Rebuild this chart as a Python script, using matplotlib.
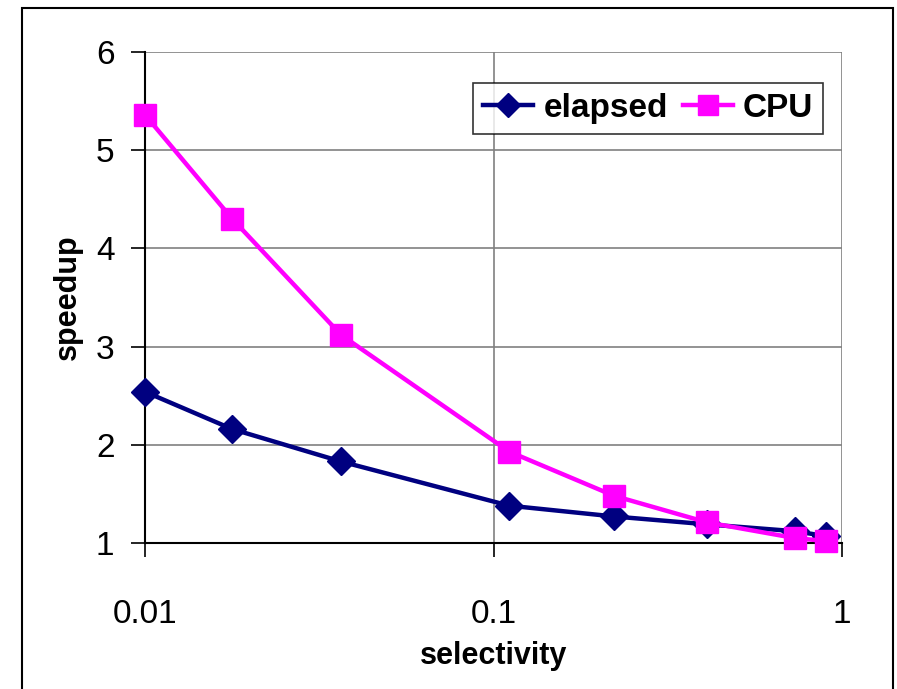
import matplotlib.pyplot as plt
from matplotlib.patches import Rectangle

plt.rcParams['font.family'] = ['Liberation Sans', 'DejaVu Sans']

# selectivity values (log scale) and measured speedups
selectivity = [0.01, 0.0178, 0.0365, 0.111, 0.222, 0.41, 0.733, 0.90]
elapsed = [2.54, 2.16, 1.83, 1.38, 1.27, 1.19, 1.12, 1.07]
cpu = [5.36, 4.30, 3.12, 1.93, 1.48, 1.21, 1.05, 1.02]

x_ticks = [0.01, 0.1, 1]
x_labels = ['0.01', '0.1', '1']
y_ticks = [1, 2, 3, 4, 5, 6]

fig = plt.figure(figsize=(8.97, 6.89), dpi=100)
ax = fig.add_axes([145/897, 1-543/689, (842-145)/897, (543-52)/689])

# outer chart border
fig.patches.append(Rectangle((22/897, -0.05), (893-22)/897, 1-8/689+0.05,
                             transform=fig.transFigure, fill=False,
                             edgecolor='black', linewidth=1.5))

ax.plot(selectivity, elapsed, color='#000080', lw=3.2, marker='D', ms=14,
        label='elapsed', clip_on=False, zorder=3)
ax.plot(selectivity, cpu, color='#FF00FF', lw=3.2, marker='s', ms=15.5,
        label='CPU', clip_on=False, zorder=4)

ax.set_xscale('log')
ax.set_xlim(0.01, 1)
ax.set_ylim(1, 6)
ax.set_xticks(x_ticks)
ax.set_xticklabels(x_labels)
ax.minorticks_off()
ax.set_yticks(y_ticks)
ax.tick_params(axis='both', direction='out', length=10, width=1.2,
               labelsize=24, pad=12, colors='black')
ax.tick_params(axis='x', pad=30)
ax.grid(True, color='#808080', linewidth=1.2)
ax.set_axisbelow(True)
for s in ['top', 'right']:
    ax.spines[s].set_visible(False)
for s in ['left', 'bottom']:
    ax.spines[s].set_linewidth(1.5)

ax.set_xlabel('selectivity', fontsize=22, fontweight='bold', labelpad=8)
ax.set_ylabel('speedup', fontsize=22, fontweight='bold', labelpad=9)

leg = ax.legend(loc='upper right', bbox_to_anchor=(0.973, 0.937), ncol=2,
                prop={'weight': 'bold', 'size': 24},
                frameon=True, fancybox=False, edgecolor='black',
                handlelength=1.5, columnspacing=0.45, handletextpad=0.3,
                borderpad=0.3, borderaxespad=0, markerscale=0.9)
leg.get_frame().set_linewidth(1.2)

fig.savefig('out.png', dpi=100)
